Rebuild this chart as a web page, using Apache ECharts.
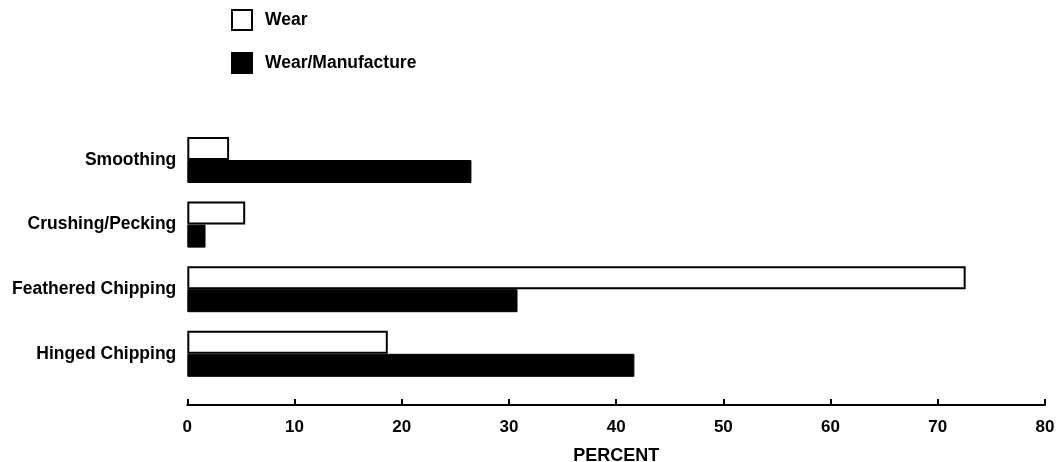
<!DOCTYPE html>
<html>
<head>
<meta charset="utf-8">
<script src="https://cdn.jsdelivr.net/npm/echarts@6/dist/echarts.min.js"></script>
<style>
html,body{margin:0;padding:0;background:#fff;}
#chart{width:1058px;height:462px;}
</style>
</head>
<body>
<div id="chart"></div>
<script>
var categories = ['Smoothing', 'Crushing/Pecking', 'Feathered Chipping', 'Hinged Chipping'];
var wear = [3.9, 5.4, 72.6, 18.7];
var wearManufacture = [26.5, 1.7, 30.8, 41.7];
var xTicks = [0, 10, 20, 30, 40, 50, 60, 70, 80];

var FONT = '"Liberation Sans", Arial, Helvetica, sans-serif';
var chart = echarts.init(document.getElementById('chart'));
chart.setOption({
  backgroundColor: '#fff',
  animation: false,
  legend: {
    orient: 'vertical',
    left: 231,
    top: 9,
    padding: 0,
    itemWidth: 20,
    itemHeight: 20,
    itemGap: 21,
    icon: 'rect',
    textStyle: { fontFamily: FONT, fontWeight: 'bold', fontSize: 17.5, color: '#000', padding: [0, 0, 0, 8] },
    data: ['Wear', 'Wear/Manufacture']
  },
  grid: { left: 187.3, right: 13, top: 127.7, height: 258.4, containLabel: false, outerBoundsMode: 'none' },
  xAxis: {
    type: 'value',
    min: xTicks[0],
    max: xTicks[xTicks.length - 1],
    interval: 10,
    offset: 19,
    name: 'PERCENT',
    nameLocation: 'middle',
    nameGap: 42,
    nameTextStyle: { fontFamily: FONT, fontWeight: 'bold', fontSize: 18, color: '#000', verticalAlign: 'top' },
    axisLine: { show: true, lineStyle: { color: '#000', width: 2 } },
    axisTick: { show: true, inside: true, length: 6, lineStyle: { color: '#000', width: 2 } },
    axisLabel: { fontFamily: FONT, fontWeight: 'bold', fontSize: 17, color: '#000', margin: 14 },
    splitLine: { show: false }
  },
  yAxis: {
    type: 'category',
    inverse: true,
    data: categories,
    axisLine: { show: false },
    axisTick: { show: false },
    axisLabel: { fontFamily: FONT, fontWeight: 'bold', fontSize: 17.5, color: '#000', margin: 11 }
  },
  series: [
    {
      name: 'Wear',
      type: 'bar',
      data: wear,
      barWidth: 23,
      barGap: '0%',
      itemStyle: { color: '#fff', borderColor: '#000', borderWidth: 2 }
    },
    {
      name: 'Wear/Manufacture',
      type: 'bar',
      data: wearManufacture,
      barWidth: 23,
      barGap: '0%',
      itemStyle: { color: '#000', borderColor: '#000', borderWidth: 1 }
    }
  ]
});
</script>
</body>
</html>
